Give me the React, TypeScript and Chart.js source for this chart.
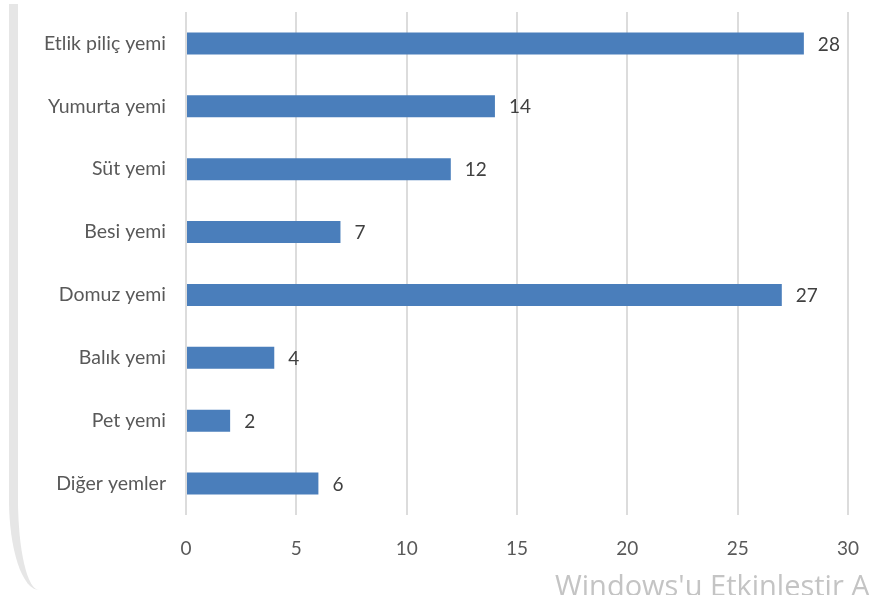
import React, { useEffect, useRef } from "react";
import { Chart, registerables } from "chart.js";

Chart.register(...registerables);

const categories = [
  "Etlik piliç yemi",
  "Yumurta yemi",
  "Süt yemi",
  "Besi yemi",
  "Domuz yemi",
  "Balık yemi",
  "Pet yemi",
  "Diğer yemler",
];
const values = [28, 14, 12, 7, 27, 4, 2, 6];
const xTicks = [0, 5, 10, 15, 20, 25, 30];
const watermark = "Windows'u Etkinleştir A";

const FONT = "Lato, 'Noto Sans', sans-serif";

const valueLabels = {
  id: "valueLabels",
  afterDatasetsDraw(chart: any) {
    const ctx = chart.ctx;
    const meta = chart.getDatasetMeta(0);
    ctx.save();
    ctx.font = `19px ${FONT}`;
    ctx.fillStyle = "#404040";
    ctx.textAlign = "left";
    ctx.textBaseline = "middle";
    meta.data.forEach((bar: any, i: number) => {
      ctx.fillText(String(values[i]), bar.x + 14, bar.y + 1);
    });
    ctx.restore();
  },
};

export default function App() {
  const ref = useRef<HTMLCanvasElement | null>(null);

  useEffect(() => {
    if (!ref.current) return;
    const chart = new Chart(ref.current, {
      type: "bar",
      data: {
        labels: categories,
        datasets: [
          {
            data: values,
            backgroundColor: "#4a7ebb",
            borderColor: "#4a7ebb",
            borderWidth: 0,
            barPercentage: 0.7,
            categoryPercentage: 0.5,
          },
        ],
      },
      options: {
        indexAxis: "y",
        animation: false,
        responsive: false,
        maintainAspectRatio: false,
        layout: { padding: { top: 12, right: 27, left: 0, bottom: 0 } },
        plugins: {
          legend: { display: false },
          tooltip: { enabled: false },
        },
        scales: {
          x: {
            min: 0,
            max: 30,
            afterBuildTicks(scale: any) {
              scale.ticks = xTicks.map((v) => ({ value: v }));
            },
            afterFit(scale: any) {
              scale.height = 80;
              scale.paddingLeft = 0;
              scale.paddingRight = 0;
            },
            grid: {
              color: "#dcdcdc",
              lineWidth: 2,
              drawTicks: false,
            },
            border: { display: false },
            ticks: {
              padding: 22,
              color: "#595959",
              font: { family: FONT, size: 19 },
            },
          },
          y: {
            afterFit(scale: any) {
              scale.width = 186;
              scale.paddingTop = 0;
              scale.paddingBottom = 0;
            },
            grid: { display: false, drawTicks: false },
            border: { display: false },
            ticks: {
              padding: 20,
              color: "#595959",
              font: { family: FONT, size: 19.5 },
            },
          },
        },
      },
      plugins: [valueLabels],
    });
    return () => chart.destroy();
  }, []);

  return (
    <div
      style={{
        position: "fixed",
        left: 0,
        top: 0,
        width: 875,
        height: 595,
        background: "#ffffff",
        overflow: "hidden",
      }}
    >
      <div
        style={{
          position: "absolute",
          left: 9,
          top: 4,
          width: 300,
          height: 586,
          borderLeft: "9px solid #e6e6e6",
          borderBottomLeftRadius: "30px 90px",
          boxSizing: "border-box",
        }}
      />
      <canvas
        ref={ref}
        width={875}
        height={595}
        style={{ position: "absolute", left: 0, top: 0, width: 875, height: 595 }}
      />
      <div
        style={{
          position: "absolute",
          left: 555,
          top: 565,
          fontFamily: "'Open Sans', sans-serif",
          fontSize: 29,
          color: "#c4c4c4",
          whiteSpace: "nowrap",
          lineHeight: "40px",
        }}
      >
        {watermark}
      </div>
    </div>
  );
}
